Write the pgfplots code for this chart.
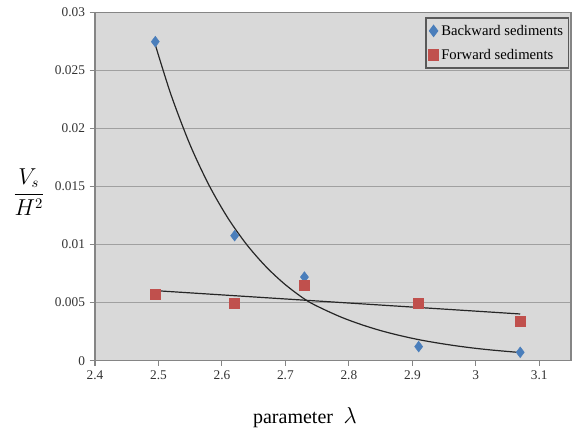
\documentclass[border=0pt]{standalone}
\usepackage{pgfplots}
\pgfplotsset{compat=1.18}
\usepackage{fontspec}
\setmainfont{Liberation Serif}
\definecolor{bgray}{HTML}{D9D9D9}
\definecolor{gridgray}{HTML}{A0A0A0}
\definecolor{axgray}{HTML}{858585}
\definecolor{xblue}{HTML}{4A7EBB}
\definecolor{xred}{HTML}{C0504D}
\begin{document}
\begin{tikzpicture}
\path[use as bounding box] (-71.25pt,-58pt) rectangle (361.5pt,270.5pt);
\begin{axis}[
  at={(0,0)}, anchor=south west,
  scale only axis,
  width=357pt, height=261.3pt,
  xmin=2.4, xmax=3.15, ymin=0, ymax=0.03,
  xtick={2.4,2.5,2.6,2.7,2.8,2.9,3.0,3.1},
  xticklabels={2.4,2.5,2.6,2.7,2.8,2.9,3,3.1},
  ytick={0,0.005,0.01,0.015,0.02,0.025,0.03},
  yticklabels={0,0.005,0.01,0.015,0.02,0.025,0.03},
  scaled y ticks=false,
  tick label style={font=\fontsize{10}{12}\selectfont, text=black!80},
  xtick pos=bottom, ytick pos=left,
  tick align=outside,
  major tick length=4pt,
  tick style={axgray, line width=0.8pt},
  axis background/.style={fill=bgray},
  axis line style={axgray, line width=1pt},
  ymajorgrids,
  major grid style={gridgray, line width=0.8pt},
  every axis x label/.style={at={(axis description cs:0.441,-0.164)}, anchor=center},
  every axis y label/.style={at={(axis description cs:-0.139,0.484)}, anchor=center},
  xlabel={\fontsize{15}{18}\selectfont parameter\; \fontsize{19}{22}\selectfont$\lambda$},
  ylabel={\fontsize{16}{19}\selectfont$\displaystyle\frac{V_s}{H^2}$},
  legend style={at={(rel axis cs:0.996,0.985)}, anchor=north east,
    draw=black!65, line width=1pt, fill=bgray,
    font=\fontsize{11}{13}\selectfont, row sep=5pt,
    inner xsep=2pt, inner ysep=3pt},
  legend cell align=left,
]
% trend lines
\addplot[black!85, line width=0.9pt, smooth, forget plot] coordinates {
(2.495,0.02720) (2.52,0.02286) (2.55,0.01856) (2.58,0.01507) (2.61,0.01223)
(2.64,0.00993) (2.67,0.00806) (2.70,0.00654) (2.733,0.00520) (2.76,0.00443)
(2.79,0.00370) (2.82,0.00310) (2.85,0.00259) (2.88,0.00217) (2.91,0.00181)
(2.94,0.00152) (2.97,0.00127) (3.00,0.00106) (3.03,0.00089) (3.07,0.00070)};
\addplot[black!85, line width=0.9pt, forget plot] coordinates {
(2.495,0.00603) (3.07,0.00402)};
\addplot[only marks, mark=diamond*, mark size=4pt, color=xblue] coordinates {
(2.495,0.02747) (2.62,0.01076) (2.73,0.0072) (2.91,0.00121) (3.07,0.00072)};
\addlegendentry{Backward sediments}
\addplot[only marks, mark=square*, mark size=3.8pt, color=xred] coordinates {
(2.495,0.00572) (2.62,0.00494) (2.73,0.00652) (2.91,0.00494) (3.07,0.00342)};
\addlegendentry{Forward sediments}
\end{axis}
\end{tikzpicture}
\end{document}
